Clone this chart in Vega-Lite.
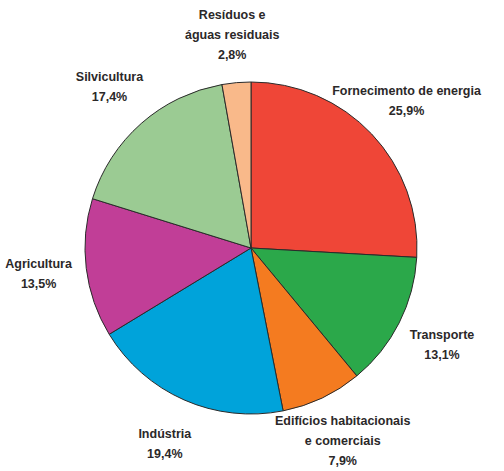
{
  "$schema": "https://vega.github.io/schema/vega-lite/v6.json",
  "width": 502,
  "height": 446,
  "autosize": "none",
  "padding": {"left": 0, "top": 25, "right": 2, "bottom": 0},
  "background": "white",
  "config": {"view": {"stroke": null}},
  "data": {
    "values": [
      {"i": 1, "sector": "Fornecimento de energia", "label": "Fornecimento de energia\n25,9%", "lines": 2, "value": 25.9},
      {"i": 2, "sector": "Transporte", "label": "Transporte\n13,1%", "lines": 2, "value": 13.1},
      {"i": 3, "sector": "Edifícios habitacionais e comerciais", "label": "Edifícios habitacionais\ne comerciais\n7,9%", "lines": 3, "value": 7.9},
      {"i": 4, "sector": "Indústria", "label": "Indústria\n19,4%", "lines": 2, "value": 19.4},
      {"i": 5, "sector": "Agricultura", "label": "Agricultura\n13,5%", "lines": 2, "value": 13.5},
      {"i": 6, "sector": "Silvicultura", "label": "Silvicultura\n17,4%", "lines": 2, "value": 17.4},
      {"i": 7, "sector": "Resíduos e águas residuais", "label": "Resíduos e\náguas residuais\n2,8%", "lines": 3, "value": 2.8}
    ]
  },
  "encoding": {
    "theta": {"field": "value", "type": "quantitative", "stack": true},
    "order": {"field": "i", "type": "quantitative"}
  },
  "layer": [
    {
      "mark": {"type": "arc", "outerRadius": 166, "stroke": "#2a2a2a", "strokeWidth": 1},
      "encoding": {
        "color": {
          "field": "sector",
          "type": "nominal",
          "sort": null,
          "scale": {
            "domain": ["Fornecimento de energia", "Transporte", "Edifícios habitacionais e comerciais", "Indústria", "Agricultura", "Silvicultura", "Resíduos e águas residuais"],
            "range": ["#EF4637", "#2BA84A", "#F47B20", "#00A3DA", "#C13E97", "#9BCB93", "#F9B98A"]
          },
          "legend": null
        }
      }
    },
    {
      "mark": {"type": "text", "radius": 214, "dy": -10, "lineBreak": "\n", "font": "Liberation Sans", "fontSize": 12.5, "fontWeight": "bold", "lineHeight": 20, "color": "#2b2829", "align": "center", "baseline": "middle"},
      "encoding": {
        "text": {"condition": {"test": "datum.lines == 2", "field": "label"}, "value": ""}
      }
    },
    {
      "mark": {"type": "text", "radius": 214, "dy": -20, "lineBreak": "\n", "font": "Liberation Sans", "fontSize": 12.5, "fontWeight": "bold", "lineHeight": 20, "color": "#2b2829", "align": "center", "baseline": "middle"},
      "encoding": {
        "text": {"condition": {"test": "datum.lines == 3", "field": "label"}, "value": ""}
      }
    }
  ]
}
